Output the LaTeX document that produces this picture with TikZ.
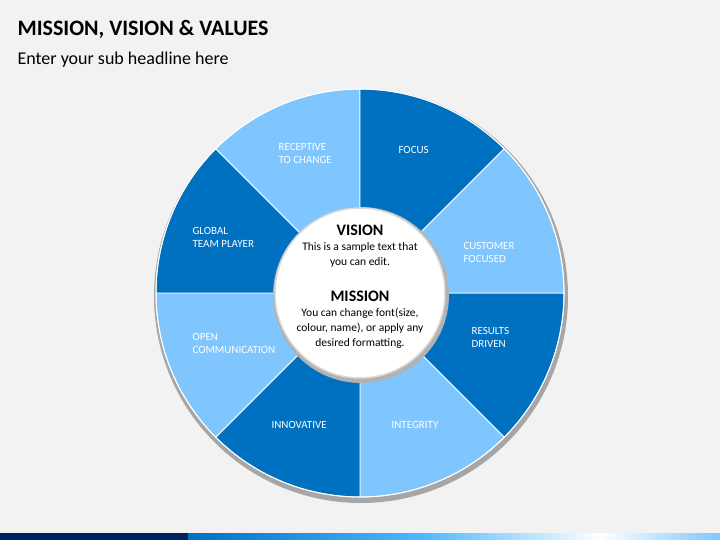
\documentclass[tikz,border=0pt]{standalone}
\usepackage{fontspec}
\setmainfont{Carlito}
\usetikzlibrary{positioning}
\definecolor{bgcol}{HTML}{F2F2F2}
\definecolor{darkseg}{HTML}{0070C0}
\definecolor{lightseg}{HTML}{7FC6FF}
\definecolor{navy}{HTML}{002060}
\tikzstyle{seglabel} = [text=white, font=\fontsize{11}{13}\selectfont, align=left, anchor=west]
\tikzstyle{headline} = [font=\fontsize{16}{18}\selectfont\bfseries, text=black]
\tikzstyle{bodytext} = [font=\fontsize{11.5}{15}\selectfont, align=center, text=black]

\begin{document}
\begin{tikzpicture}[x=1pt,y=-1pt]

\fill[bgcol] (0,0) rectangle (720,540);
\useasboundingbox (0,0) rectangle (720,540);

\node (title) [anchor=west, font=\fontsize{22}{26}\selectfont\bfseries] at (14,29) {MISSION, VISION \& VALUES};
\node (sub) [anchor=west, font=\fontsize{18}{22}\selectfont] at (14,60) {Enter your sub headline here};

% wheel
\coordinate (c) at (360,293);
\fill[black!35] (361,296) circle (207);
\foreach \a/\col in {0/darkseg, 45/lightseg, 90/darkseg, 135/lightseg, 180/darkseg, 225/lightseg, 270/darkseg, 315/lightseg}
  \filldraw[fill=\col, draw=white, line width=0.8pt] (c) -- ++(\a:204) arc[start angle=\a, end angle=\a+45, radius=204] -- cycle;
\draw[white, line width=1pt] (c) circle (204);

\node (focus) [seglabel] at (395,150) {FOCUS};
\node (cust) [seglabel] at (460,252) {CUSTOMER\\FOCUSED};
\node (res) [seglabel] at (468,337) {RESULTS\\DRIVEN};
\node (integ) [seglabel] at (388,425) {INTEGRITY};
\node (innov) [seglabel] at (268,425) {INNOVATIVE};
\node (open) [seglabel] at (189,343) {OPEN\\COMMUNICATION};
\node (glob) [seglabel] at (189,237) {GLOBAL\\TEAM PLAYER};
\node (recep) [seglabel] at (275,153) {RECEPTIVE\\TO CHANGE};

% centre
\fill[black!30] (361,295) circle (88);
\filldraw[fill=white, draw=black!15, line width=1.5pt] (c) circle (85);
\node (vision) [headline] at (360,230) {VISION};
\node (vtext) [bodytext, below=0pt of vision] {This is a sample text that\\you can edit.};
\node (mission) [headline] at (360,296) {MISSION};
\node (mtext) [bodytext, below=0pt of mission] {You can change font(size,\\colour, name), or apply any\\desired formatting.};

% footer bar
\fill[navy] (0,533) rectangle (188,540);
\shade[left color=darkseg, right color=cyan!60!blue!70] (188,533) rectangle (420,540);
\shade[left color=cyan!60!blue!70, right color=white] (420,533) rectangle (600,540);
\shade[left color=white, right color=lightseg] (600,533) rectangle (720,540);

\end{tikzpicture}
\end{document}
